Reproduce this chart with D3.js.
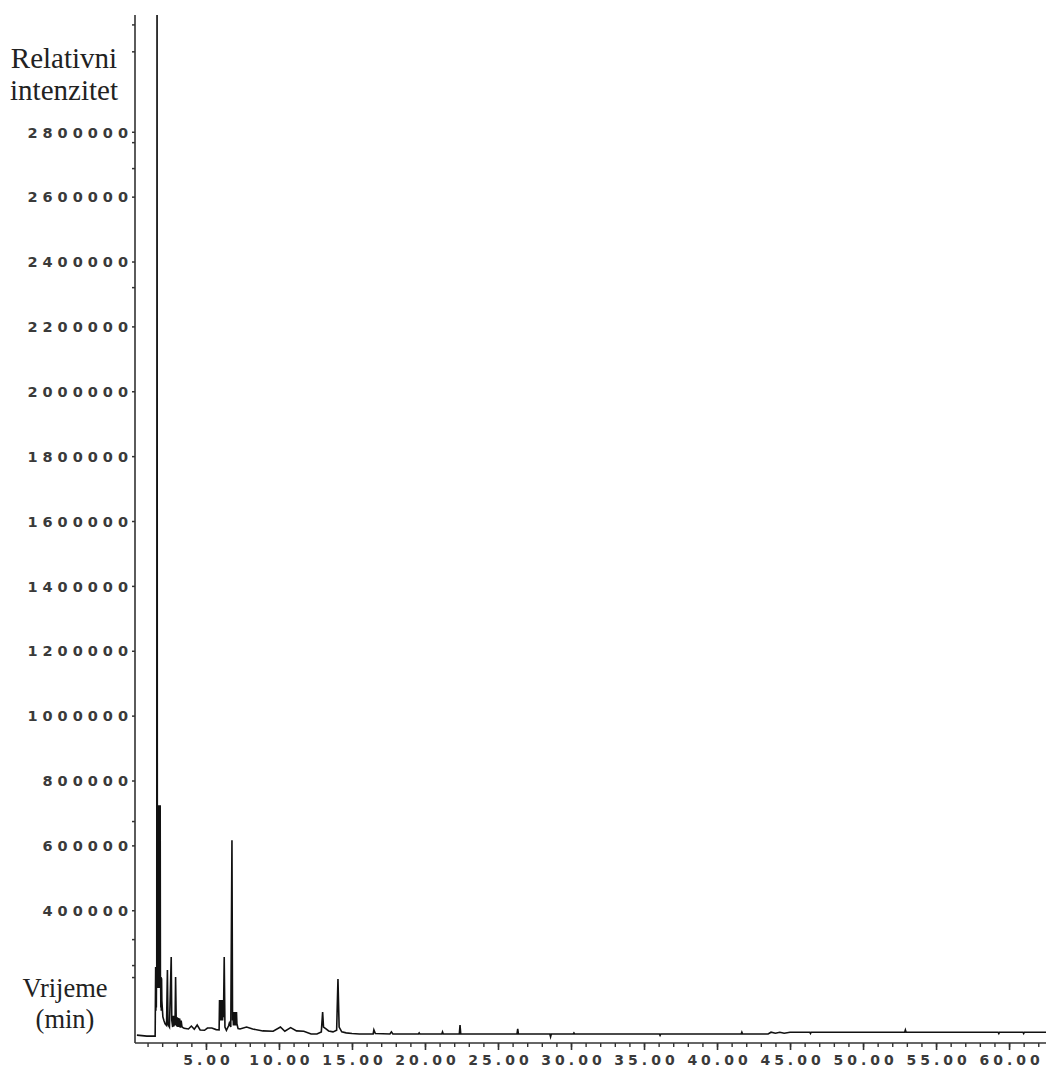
<!DOCTYPE html>
<html>
<head>
<meta charset="utf-8">
<script src="https://cdn.jsdelivr.net/npm/d3@7"></script>
<style>
  html, body { margin: 0; padding: 0; background: #fff; }
  svg { display: block; }
</style>
</head>
<body>
<script>
// ---- Data (retention time in minutes, relative intensity) ----
const times = [
  0.27, 0.95, 1.52, 1.555, 1.57, 1.585, 1.60, 1.615, 1.63, 1.65, 1.67, 1.685, 1.70, 1.715, 1.73,
  1.745, 1.76, 1.775, 1.79, 1.805, 1.82, 1.835, 1.85, 1.865, 1.88, 1.895, 1.91, 1.925, 1.94, 1.96,
  1.98, 2.05,
  2.12, 2.20, 2.30, 2.36, 2.40, 2.50, 2.62, 2.66, 2.72, 2.76, 2.80, 2.84, 2.88, 2.92, 2.96, 3.00,
  3.04, 3.08, 3.12, 3.16, 3.20, 3.24, 3.30, 3.36, 3.50, 3.80, 4.00, 4.20, 4.40, 4.60, 4.90, 5.10,
  5.40, 5.70, 5.90,
  5.93, 5.96, 5.99, 6.02, 6.05, 6.08, 6.11, 6.14, 6.17, 6.20, 6.25, 6.30, 6.40, 6.55, 6.60, 6.70,
  6.78, 6.82, 6.85, 6.88, 6.91, 6.94, 6.97, 7.00, 7.03, 7.06, 7.09, 7.12, 7.20,
  7.33, 7.78, 8.20, 8.90, 9.60, 10.10, 10.40, 10.80, 11.20, 11.70, 12.20,
  12.60, 12.90, 12.99, 13.05, 13.20, 13.40, 13.70, 13.95, 14.04, 14.12, 14.30, 14.60, 15.00, 15.50,
  16.45, 16.50, 16.60, 17.60, 17.70, 17.80, 19.55, 19.60, 19.65, 21.15, 21.20, 21.25, 22.35, 22.40,
  22.45, 26.30, 26.35, 26.40, 28.55, 28.60, 28.65, 30.15, 30.20, 30.25, 36.05, 36.10, 36.15, 41.65,
  41.70, 41.75, 43.50, 43.70, 44.00, 44.30, 44.60, 45.00, 46.35, 46.40, 46.45, 52.85, 52.90, 52.95,
  59.25, 59.30, 59.35, 60.95, 61.00, 61.05, 62.53
];
const intensities = [
  15000, 12000, 12000, 225000, 90000, 225000, 100000, 225000, 160000, 3400000, 300000, 724000, 160000, 724000, 170000,
  724000, 160000, 724000, 170000, 724000, 160000, 724000, 180000, 724000, 190000, 194000, 100000, 194000, 90000, 190000,
  120000, 71000,
  60000, 50000, 45000, 216000, 48000, 40000, 256000, 60000, 40000, 75000, 42000, 75000, 45000, 194000, 70000, 42000,
  70000, 40000, 68000, 40000, 66000, 38000, 60000, 40000, 36000, 34000, 43000, 33000, 46000, 31000, 30000, 37000,
  37000, 32000, 31000,
  123000, 60000, 123000, 60000, 123000, 60000, 123000, 60000, 123000, 70000, 256000, 40000, 30000, 44000, 52000, 40000,
  616000, 60000, 86000, 45000, 86000, 45000, 86000, 45000, 86000, 45000, 86000, 50000, 35000,
  34000, 40000, 34000, 28000, 27000, 40000, 27000, 38000, 28000, 27000, 18500,
  18500, 25000, 86000, 40000, 35000, 28000, 25000, 30000, 188000, 40000, 25000, 22000, 20000, 18500,
  18500, 31000, 20000, 18500, 25000, 18500, 18500, 22000, 18500, 18500, 25000, 18500, 18500, 46000,
  18500, 18500, 34000, 18500, 18500, 10000, 18500, 18500, 22000, 18500, 18500, 14000, 18500, 18500,
  24000, 18500, 18500, 24000, 21000, 24000, 21000, 24000, 24000, 20000, 24000, 24000, 31000, 24000,
  24000, 20000, 24000, 24000, 20000, 24000, 24000
];
const yLabelValues = [400000, 600000, 800000, 1000000, 1200000, 1400000, 1600000, 1800000,
                      2000000, 2200000, 2400000, 2600000, 2800000];
const yExtraTicks = [3131000, 3048000, 2768000, 2688000, 2321000, 675000, 311000, 231000, 194000];
const xMajorTicks = [5, 10, 15, 20, 25, 30, 35, 40, 45, 50, 55, 60];
const xMinorTicks = d3.range(1, 63);
const yTitle = ["Relativni", "intenzitet"];
const xTitle = ["Vrijeme", "(min)"];

// ---- Layout ----
const W = 1046, H = 1068;
const axisX = 135, axisY = 1043, plotTop = 15;

const svg = d3.select("body").append("svg").attr("width", W).attr("height", H);

const x = d3.scaleLinear().domain([0.14, 62.53]).range([axisX, W]);
const y = d3.scaleLinear().domain([0, 3160000]).range([1040, plotTop]);

const data = times.map((t, i) => ({ t, v: intensities[i] }));

svg.append("clipPath").attr("id", "clip")
  .append("rect").attr("x", axisX).attr("y", plotTop).attr("width", W - axisX).attr("height", axisY - plotTop);

const lineGen = d3.line().x(d => x(d.t)).y(d => y(d.v));

svg.append("path")
  .datum(data)
  .attr("clip-path", "url(#clip)")
  .attr("d", lineGen)
  .attr("fill", "none")
  .attr("stroke", "#111")
  .attr("stroke-width", 1.6)
  .attr("stroke-linejoin", "miter");

// ---- Axes ----
const axisColor = "#333";
const labelFont = "'DejaVu Sans', Verdana, sans-serif";

// Bottom minor ticks
const gxMinor = svg.append("g").attr("transform", `translate(0,${axisY})`)
  .call(d3.axisBottom(x).tickValues(xMinorTicks).tickSize(4).tickFormat(""));
gxMinor.select(".domain").remove();
gxMinor.selectAll("line").attr("stroke", axisColor).attr("stroke-width", 1.4);

// Bottom major ticks with labels
const gxMajor = svg.append("g").attr("transform", `translate(0,${axisY})`)
  .call(d3.axisBottom(x).tickValues(xMajorTicks).tickSize(7).tickPadding(6).tickFormat(d3.format(".2f")));
gxMajor.select(".domain").remove();
gxMajor.selectAll("line").attr("stroke", axisColor).attr("stroke-width", 1.6);
gxMajor.selectAll("text")
  .attr("y", 22)
  .attr("dy", 0)
  .attr("dx", 2)
  .attr("fill", "#3a3a3a")
  .style("font-family", labelFont)
  .style("font-size", "14px")
  .style("font-weight", "bold")
  .style("letter-spacing", "4px");

// Left axis labels
const gy = svg.append("g").attr("transform", `translate(${axisX},0)`)
  .call(d3.axisLeft(y).tickValues(yLabelValues).tickSize(3).tickPadding(5).tickFormat(d3.format("d")));
gy.select(".domain").remove();
gy.selectAll("line").attr("stroke", axisColor).attr("stroke-width", 1.5);
gy.selectAll("text")
  .attr("x", -2)
  .attr("dy", "0.36em")
  .attr("fill", "#3a3a3a")
  .style("font-family", labelFont)
  .style("font-size", "14.5px")
  .style("font-weight", "bold")
  .style("letter-spacing", "5px");

// Extra irregular tick marks on the left axis
const gyExtra = svg.append("g").attr("transform", `translate(${axisX},0)`)
  .call(d3.axisLeft(y).tickValues(yExtraTicks).tickSize(3).tickFormat(""));
gyExtra.select(".domain").remove();
gyExtra.selectAll("line").attr("stroke", axisColor).attr("stroke-width", 1.5);

// Axis lines
svg.append("line").attr("x1", axisX).attr("x2", axisX).attr("y1", plotTop).attr("y2", axisY)
  .attr("stroke", axisColor).attr("stroke-width", 1.6);
svg.append("line").attr("x1", axisX).attr("x2", W).attr("y1", axisY).attr("y2", axisY)
  .attr("stroke", axisColor).attr("stroke-width", 1.6);

// ---- Titles ----
const titleFont = "'Liberation Serif', 'Times New Roman', serif";
svg.selectAll(".ytitle").data(yTitle).enter().append("text")
  .attr("class", "ytitle")
  .attr("x", 64).attr("y", (d, i) => 68 + i * 32)
  .attr("text-anchor", "middle")
  .attr("fill", "#222")
  .style("font-family", titleFont)
  .style("font-size", "29px")
  .text(d => d);

svg.selectAll(".xtitle").data(xTitle).enter().append("text")
  .attr("class", "xtitle")
  .attr("x", 65).attr("y", (d, i) => 997 + i * 31)
  .attr("text-anchor", "middle")
  .attr("fill", "#222")
  .style("font-family", titleFont)
  .style("font-size", "26.5px")
  .text(d => d);
</script>
</body>
</html>
